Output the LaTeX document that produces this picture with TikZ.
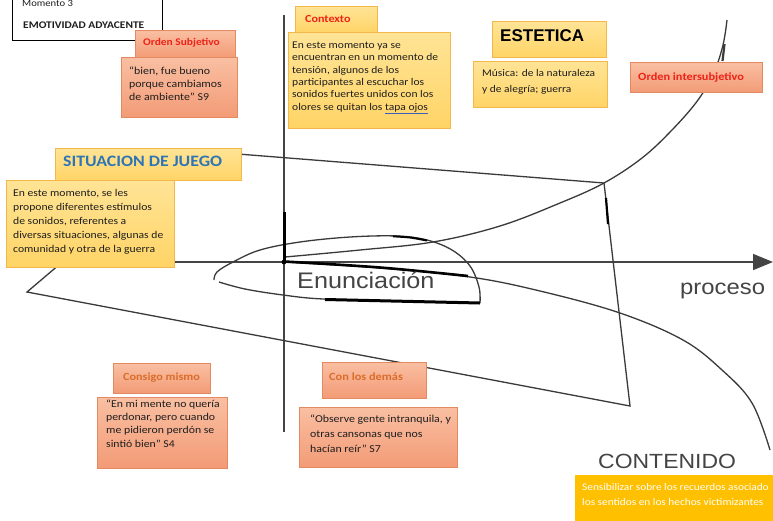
\documentclass[tikz,border=0pt]{standalone}
\usepackage{fontspec}
\usepackage{graphicx}
\setmainfont{Carlito}
\newfontfamily\arialf{Liberation Sans}
\usetikzlibrary{arrows.meta}
\definecolor{salTop}{HTML}{F9BFA2}
\definecolor{salBot}{HTML}{F39B76}
\definecolor{salLine}{HTML}{E38A62}
\definecolor{yelTop}{HTML}{FFE496}
\definecolor{yelBot}{HTML}{FFD466}
\definecolor{yelLine}{HTML}{F2B84B}
\definecolor{amber}{HTML}{FFC000}
\definecolor{ttlred}{HTML}{EE2219}
\definecolor{ttlorange}{HTML}{DA6D2B}
\definecolor{ttlblue}{HTML}{2E75B6}
\definecolor{ink}{HTML}{1E1E1E}
\definecolor{pen}{HTML}{3A3A3A}
\definecolor{grayink}{HTML}{444444}
\definecolor{ulblue}{HTML}{3B5FC0}
\newcommand\sx[1]{\scalebox{1.12}[1]{#1}}
\newcommand\mylines[3]{\sx{\fontsize{#1}{#2}\selectfont\begin{tabular}[t]{@{}l@{}}#3\end{tabular}}}
\begin{document}
\begin{tikzpicture}[x=1pt,y=-1pt,
  hand/.style={draw=pen, line width=1.3pt, line join=round},
  axisline/.style={draw=grayink, line width=1.6pt},
  salbox/.style={draw=salLine, line width=0.8pt, top color=salTop, bottom color=salBot, anchor=north west, inner sep=0pt},
  yelbox/.style={draw=yelLine, line width=0.8pt, top color=yelTop, bottom color=yelBot, anchor=north west, inner sep=0pt},
  txt/.style={inner sep=0pt, anchor=base west, text=ink},
  bigtxt/.style={inner sep=0pt, anchor=base west, text=grayink}
]
\useasboundingbox (0,0) rectangle (773,520);
\fill[white] (0,0) rectangle (773,520);

% axes
\coordinate (ytop) at (284,15);
\coordinate (ybot) at (284,432);
\coordinate (xstart) at (160,262);
\coordinate (xend) at (773,262);
\coordinate (O) at (284,262);
\draw[axisline] (ytop) -- (ybot);
\draw[axisline, -{Triangle[length=20pt,width=16pt]}] (xstart) -- (xend);

% polygon
\coordinate (pA) at (100,230);
\coordinate (pB) at (27,292);
\coordinate (pC) at (630,406);
\coordinate (pD) at (604,183);
\coordinate (pE) at (200,151);
\draw[hand, line join=miter] (pA) -- (pB) -- (pC) -- (pD) -- (pE);

% rising curve
\draw[hand] plot[smooth,tension=0.6] coordinates {(285,257) (360,250) (433,242) (500,226) (560,203) (604,183) (642,158) (672,130) (698,100) (714,72) (723,45) (727,20)};
% descending curve
\draw[hand] plot[smooth,tension=0.6] coordinates {(284,262) (380,268) (470,277) (540,291) (620,313) (683,340) (722,370) (752,403) (770,450)};
\draw[draw=black, line width=2.6pt] plot[smooth,tension=0.6] coordinates {(284,261.5) (380,267.5) (468,276)};
% lens
\draw[hand] plot[smooth,tension=0.6] coordinates {(480,303) (479,287) (470,266) (452,250) (427,240) (397,236) (350,237) (300,242) (260,250) (233,262) (217,272) (214,280)};
\draw[hand] plot[smooth,tension=0.6] coordinates {(219,282) (245,289) (283,295) (323,299) (400,301) (480,303)};
\draw[draw=black, line width=3pt] (325,299.5) -- (480,303);
\draw[draw=black, line width=2pt] plot[smooth] coordinates {(393,236.3) (410,237.5) (427,240.5)};
% thick marks
\draw[draw=black, line width=3pt] (284,212) -- (O);
\fill[black] (O) circle (2.4);
\draw[draw=black, line width=2.2pt] (606,198) -- (608,224);
\draw[draw=pen, line width=2.2pt] (724.5,44) -- (722.5,61);

% Momento box
\node[draw=black, line width=1pt, fill=white, anchor=north west, minimum width=150, minimum height=52, inner sep=0pt] (mom) at (12,-12) {};
\node[txt] (momt) at (22,6) {\sx{\fontsize{9.5}{11}\selectfont Momento 3}};
\node[txt] (emot) at (23,28.3) {\sx{\fontsize{10.2}{12}\selectfont\bfseries EMOTIVIDAD ADYACENTE}};

% Orden subjetivo
\node[salbox, minimum width=116, minimum height=60] (osq) at (121,57) {};
\node[salbox, minimum width=100, minimum height=27] (osh) at (135,30) {};
\node[txt, text=ttlred] (osht) at (143,45) {\sx{\fontsize{10.2}{12}\selectfont\bfseries Orden Subjetivo}};
\node[txt] (osqt) at (129,74) {\mylines{10.6}{13}{“bien, fue bueno\\porque cambiamos\\de ambiente” S9}};

% Contexto
\node[yelbox, minimum width=162, minimum height=96] (cxq) at (288,32) {};
\node[yelbox, minimum width=82, minimum height=26] (cxh) at (295,6) {};
\node[txt, text=ttlred] (cxht) at (305,22.7) {\sx{\fontsize{10.8}{12}\selectfont\bfseries Contexto}};
\node[txt] (cxqt) at (292,48.3) {\mylines{10.3}{12.4}{En este momento ya se\\encuentran en un momento de\\tensión, algunos de los\\participantes al escuchar los\\sonidos fuertes unidos con los\\olores se quitan los \textcolor{ulblue}{\underline{\textcolor{ink}{tapa ojos}}}}};

% Estetica
\node[yelbox, minimum width=114, minimum height=36] (esh) at (492,21) {};
\node[yelbox, minimum width=134, minimum height=46] (esq) at (473,61) {};
\node[txt, text=black] (esht) at (500,41.7) {\fontsize{17}{20}\selectfont\arialf\bfseries ESTETICA};
\node[txt] (esqt) at (482,76) {\mylines{10.2}{16.5}{Música: de la naturaleza\\y de alegría; guerra}};

% Orden intersubjetivo
\node[salbox, minimum width=132, minimum height=30] (oih) at (630,62) {};
\node[txt, text=ttlred] (oiht) at (638,80) {\sx{\fontsize{11}{13}\selectfont\bfseries Orden intersubjetivo}};

% Situacion de juego
\node[yelbox, minimum width=186, minimum height=32] (sjh) at (55,148) {};
\node[yelbox, minimum width=168, minimum height=87] (sjq) at (6,180) {};
\node[txt, text=ttlblue] (sjht) at (63,166) {\sx{\fontsize{15.9}{18}\selectfont\bfseries SITUACION DE JUEGO}};
\node[txt] (sjqt) at (13,196) {\mylines{10.4}{14}{En este momento, se les\\propone diferentes estímulos\\de sonidos, referentes a\\diversas situaciones, algunas de\\comunidad y otra de la guerra}};

% Consigo mismo
\node[salbox, minimum width=97, minimum height=30] (cmh) at (113,363) {};
\node[salbox, minimum width=130, minimum height=71] (cmq) at (97,397) {};
\node[inner sep=0pt, anchor=base, text=ttlorange] (cmht) at (161.5,380) {\sx{\fontsize{10.9}{13}\selectfont\bfseries Consigo mismo}};
\node[txt] (cmqt) at (106,407.3) {\mylines{10.5}{13.3}{“En mi mente no quería\\perdonar, pero cuando\\me pidieron perdón se\\sintió bien” S4}};

% Con los demas
\node[salbox, minimum width=104, minimum height=36] (ldh) at (322,362) {};
\node[salbox, minimum width=158, minimum height=60] (ldq) at (299,407) {};
\node[txt, text=ttlorange] (ldht) at (329,380) {\sx{\fontsize{11}{13}\selectfont\bfseries Con los demás}};
\node[txt] (ldqt) at (310,422.7) {\mylines{10.6}{15}{“Observe gente intranquila, y\\otras cansonas que nos\\hacían reír” S7}};

% big labels
\node[bigtxt] (enun) at (297,288.3) {\sx{\fontsize{22.5}{26}\selectfont\arialf Enunciación}};
\node[bigtxt] (proc) at (680,294) {\sx{\fontsize{21.3}{25}\selectfont\arialf proceso}};
\node[bigtxt] (cont) at (598,468.3) {\sx{\fontsize{20.5}{24}\selectfont\arialf CONTENIDO}};

% Contenido box
\node[fill=amber, anchor=north west, minimum width=205, minimum height=50, inner sep=0pt] (cnq) at (575,475) {};
\node[txt, text=white] (cnqt) at (582,490) {\mylines{10.1}{15}{Sensibilizar sobre los recuerdos asociado\\los sentidos en los hechos victimizantes}};
\end{tikzpicture}
\end{document}
